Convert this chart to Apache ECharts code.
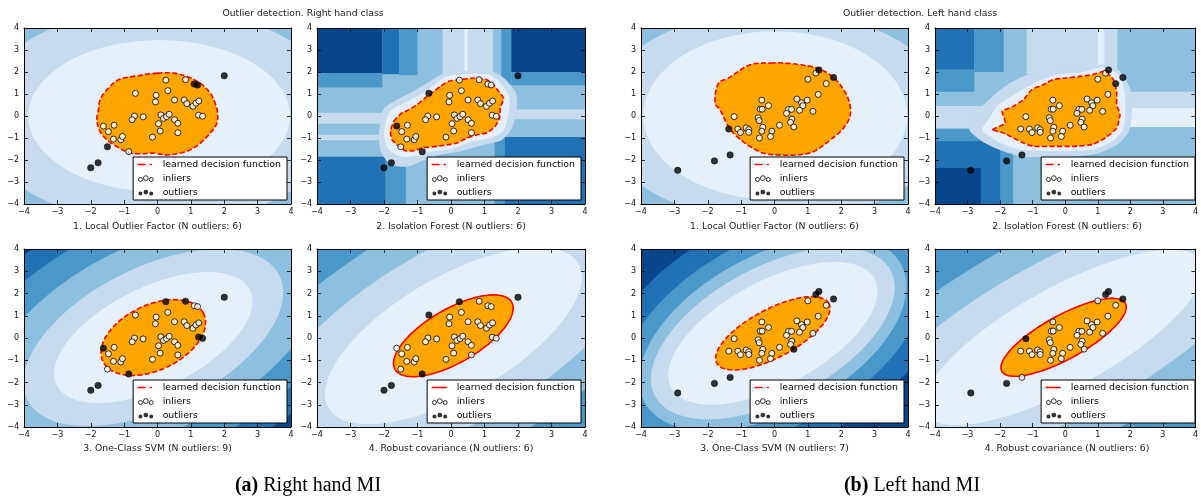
<!DOCTYPE html>
<html><head><meta charset="utf-8">
<script src="https://cdn.jsdelivr.net/npm/echarts/dist/echarts.min.js"></script>
<style>html,body{margin:0;padding:0;background:#fff}#c{width:1201px;height:501px}</style>
</head><body><div id="c"></div>
<script>
// ---------------- data ----------------
const axisTicks = [-4,-3,-2,-1,0,1,2,3,4];
const rightPts = [[2.0,1.83],[0.25,1.63],[0.84,1.65],[1.1,1.45],[1.2,1.41],[0.31,1.15],[-0.66,1.03],[-0.04,0.94],[-0.06,0.64],[0.51,0.73],[0.8,0.73],[0.88,0.56],[1.06,0.44],[1.15,0.58],[1.24,0.68],[1.23,0.04],[1.35,-0.01],[0.10,0.05],[0.18,-0.11],[0.27,-0.03],[0.35,0.08],[0.51,-0.17],[0.61,-0.33],[0.61,-0.76],[0.03,-0.35],[0.08,-0.68],[-0.15,-0.96],[-0.43,-0.04],[-0.69,0.0],[-0.76,-0.17],[-1.3,-0.42],[-1.62,-0.46],[-1.47,-0.71],[-1.32,-1.05],[-1.1,-1.08],[-1.05,-0.93],[-1.5,-1.4],[-0.86,-1.62],[-1.78,-2.13],[-2.0,-2.35]];
const leftPts = [[-2.9,-2.47],[-1.8,-2.04],[-1.33,-1.77],[1.24,1.95],[1.33,2.09],[1.77,1.75],[1.0,1.67],[1.55,1.47],[1.31,0.98],[0.67,0.77],[0.98,0.72],[0.81,0.6],[0.85,0.47],[0.75,0.26],[1.15,0.21],[0.42,0.3],[0.51,0.3],[0.36,0.12],[0.52,-0.14],[0.48,-0.29],[0.58,-0.5],[0.15,-0.42],[-0.18,0.47],[-0.38,0.72],[-0.43,0.31],[-0.37,0.31],[-0.49,-0.08],[-0.46,-0.21],[-0.35,-0.51],[-0.38,-0.69],[-0.45,-1.0],[-0.08,-0.69],[-0.12,-0.93],[-1.21,-0.03],[-1.37,-0.59],[-1.1,-0.59],[-1.02,-0.75],[-0.85,-0.54],[-0.77,-0.62],[-0.77,-0.74]];
// outlier indices per method
const outRightLOF = [0,3,4,36,38,39];
const outRightIF  = [0,6,31,37,38,39];
const outRightSVM = [0,1,2,15,16,31,37,38,39];
const outRightRob = [0,1,6,37,38,39];
const outLeftLOF  = [0,1,2,4,5,34];
const outLeftIF   = [0,1,2,4,5,7];
const outLeftSVM  = [0,1,2,3,4,5,20];
const outLeftRob  = [0,1,3,4,5,33];
const panelTitles = ['1. Local Outlier Factor (N outliers: 6)','2. Isolation Forest (N outliers: 6)','3. One-Class SVM (N outliers: 9)','4. Robust covariance (N outliers: 6)',
                     '1. Local Outlier Factor (N outliers: 6)','2. Isolation Forest (N outliers: 6)','3. One-Class SVM (N outliers: 7)','4. Robust covariance (N outliers: 6)'];
const suptitles = ['Outlier detection. Right hand class','Outlier detection. Left hand class'];
const captions = [['(a)',' Right hand MI'],['(b)',' Left hand MI']];

// decision-function level shapes: [level, cx, cy, ux, uy, vx, vy] (conjugate semi-axes, data units)
const lofRightLevels = [[4,0.05,0,5.5,0,0,4.9],[5,0.05,0,3.92,0,0,3.45]];
const lofLeftLevels  = [[4,0,0,5.3,0,0,4.8],[5,0.02,0.02,3.95,0,0,3.83]];
const svmRightLevels = [[1,-0.125,0.02,7.02,5.15,-1.80,5.57],[2,-0.125,0.02,5.94,4.36,-1.54,4.76],[3,-0.125,0.02,4.86,3.57,-1.22,3.78],[4,-0.125,0.02,3.78,2.78,-0.92,2.85],[5,-0.125,0.02,2.9,2.13,-0.66,2.03]];
const svmLeftLevels  = [[1,-0.05,0.21,5.04,4.03,-1.61,4.55],[2,-0.05,0.21,4.38,3.50,-1.31,3.72],[3,-0.05,0.21,3.85,3.08,-1.10,3.12],[4,-0.05,0.21,3.53,2.82,-0.93,2.64],[5,-0.05,0.21,3.05,2.44,-0.73,2.08]];
const robRightLevels = [[2,0.07,0.1,9.18,7.98,-2.21,5.76],[3,0.07,0.1,7.36,6.40,-1.76,4.59],[4,0.07,0.1,5.54,4.82,-1.31,3.41],[5,0.07,0.1,3.73,3.24,-0.88,2.30]];
const robLeftLevels  = [[2,-0.05,0.03,10.61,8.49,-2.11,5.99],[3,-0.05,0.03,8.49,6.79,-1.49,4.24],[4,-0.05,0.03,6.37,5.09,-1.10,3.12],[5,-0.05,0.03,4.24,3.40,-0.70,2.0]];
// learned boundaries (ellipses)
const svmRightBoundary = [[6,-0.125,0.02,1.50,1.10,-0.45,1.30]];
const svmLeftBoundary  = [[6,-0.05,0.21,1.68,1.34,-0.34,0.96]];
const robRightBoundary = [[6,0.07,0.1,1.74,1.51,-0.40,1.05]];
const robLeftBoundary  = [[6,-0.05,0.03,1.90,1.52,-0.31,0.87]];
// isolation-forest level blocks: [level, x1, y1, x2, y2]
const ifRightBlocks = [[3,-4,-4,4,4],[0,-4,1.95,-2.05,4],[1,-2.05,1.9,-1.55,4],[2,-1.55,1.85,-1.0,4],[4,-0.25,1.85,1.25,4],[5,0.4,1.85,0.5,4],[2,1.5,1.4,1.8,4],[2,1.8,1.4,4,2.0],[0,1.8,2.0,4,4],[2,-4,1.3,-2.05,1.95],[4,-4,-0.35,-2.0,0.15],[4,-4,-1.1,-2.0,-0.85],[1,-4,-4,-1.95,-1.85],[2,-1.95,-4,-1.35,-1.9],[2,1.3,-4,1.6,-1.0],[1,1.6,-4,4,-0.95],[4,1.8,-0.15,4,0.3]];
const ifLeftBlocks = [[3,-4,-4,4,4],[1,-4,2.1,-2.79,4],[2,-2.79,2.0,-1.89,4],[4,-1.18,1.9,1.6,4],[5,1.0,1.9,1.2,4],[2,-4,1.1,-2.79,2.1],[4,-4,-0.55,-2.2,0.45],[2,-4,-4,-1.6,-0.6],[1,-4,-4,-2.0,-1.15],[0,-4,-4,-2.59,-2.36],[4,1.65,-0.5,4,1.1],[5,1.65,-0.5,4,0.35]];
// irregular level regions: halos and learned boundaries
const ifRightHalo4 = [[-2.1,-0.2],[-2.0,0.35],[-1.6,0.75],[-1.1,1.15],[-0.6,1.6],[-0.2,1.95],[0.4,2.05],[1.2,2.05],[1.6,1.7],[1.95,1.0],[1.95,0.2],[1.8,-0.6],[1.5,-1.1],[1.0,-1.3],[0.3,-1.6],[-0.3,-1.75],[-0.8,-2.0],[-1.3,-2.3],[-1.8,-2.2],[-2.1,-1.6],[-2.15,-0.9]];
const ifRightHalo5 = [[-1.95,-0.25],[-1.8,0.25],[-1.45,0.55],[-1.0,0.9],[-0.55,1.35],[-0.15,1.8],[0.4,1.9],[1.15,1.88],[1.5,1.45],[1.75,0.85],[1.7,0.0],[1.55,-0.7],[1.15,-1.0],[0.55,-1.2],[0.0,-1.5],[-0.5,-1.6],[-1.0,-1.8],[-1.45,-1.85],[-1.85,-1.55],[-2.0,-0.9]];
const ifRightBoundary = [[-1.71,-0.24],[-1.51,0.09],[-1.26,0.29],[-1.01,0.52],[-0.77,0.82],[-0.57,1.05],[-0.32,1.35],[-0.07,1.58],[0.28,1.65],[0.68,1.73],[1.07,1.65],[1.27,1.42],[1.42,1.12],[1.57,0.82],[1.47,0.36],[1.45,-0.09],[1.32,-0.47],[1.07,-0.77],[0.78,-0.85],[0.48,-1.0],[0.18,-1.23],[-0.07,-1.3],[-0.42,-1.38],[-0.82,-1.45],[-1.11,-1.58],[-1.36,-1.58],[-1.56,-1.38],[-1.76,-1.08],[-1.81,-0.7]];
const ifLeftHalo4 = [[-2.95,-0.6],[-2.7,0.2],[-2.3,0.8],[-1.8,1.4],[-1.2,1.85],[-0.4,2.05],[0.5,2.15],[1.2,2.35],[1.7,2.0],[2.0,1.2],[2.05,0.2],[1.95,-0.7],[1.6,-1.3],[1.0,-1.7],[0.2,-1.85],[-0.6,-1.85],[-1.3,-1.85],[-1.9,-1.6],[-2.5,-1.2]];
const ifLeftHalo5 = [[-2.55,-0.62],[-2.3,-0.05],[-2.1,0.45],[-1.7,0.85],[-1.3,1.2],[-0.8,1.6],[-0.2,1.9],[0.5,1.98],[1.15,2.2],[1.65,1.85],[1.82,1.1],[1.85,0.2],[1.78,-0.6],[1.45,-1.15],[0.9,-1.5],[0.2,-1.6],[-0.6,-1.6],[-1.3,-1.55],[-1.8,-1.35],[-2.25,-1.0]];
const ifLeftBoundary = [[-2.24,-0.62],[-1.84,-0.32],[-1.94,0.21],[-1.59,0.44],[-1.28,0.74],[-1.03,1.2],[-0.68,1.42],[-0.38,1.65],[0.02,1.73],[0.43,1.8],[0.83,1.88],[1.23,2.03],[1.48,1.65],[1.58,1.12],[1.58,0.52],[1.68,0.06],[1.58,-0.55],[1.23,-1.0],[0.83,-1.3],[0.23,-1.38],[-0.38,-1.38],[-0.98,-1.38],[-1.28,-1.23],[-1.59,-1.0],[-1.89,-0.77]];
const lofRightBoundary = [[0,1.95],[-0.72,1.8],[-1.17,1.65],[-1.52,1.19],[-1.72,0.74],[-1.77,0.28],[-1.82,-0.17],[-1.72,-0.71],[-1.52,-1.08],[-1.22,-1.39],[-0.87,-1.66],[-0.52,-1.72],[-0.12,-1.69],[0.28,-1.77],[0.68,-1.69],[0.98,-1.54],[1.28,-1.24],[1.58,-0.78],[1.78,-0.33],[1.8,0.13],[1.73,0.58],[1.58,1.04],[1.28,1.49],[0.88,1.8],[0.48,1.95]];
const lofLeftBoundary = [[-0.03,2.41],[-0.73,2.33],[-1.38,1.72],[-1.68,1.49],[-1.78,0.58],[-1.63,0.28],[-1.38,-0.48],[-1.13,-0.93],[-0.73,-1.39],[-0.33,-1.69],[0.07,-1.77],[0.67,-1.77],[1.17,-1.62],[1.67,-1.09],[2.07,-0.55],[2.27,0.05],[2.22,0.74],[1.97,1.42],[1.67,1.87],[1.27,2.18],[0.77,2.33],[0.27,2.41]];

// ---------------- styling / layout ----------------
const LEVEL_COLORS = ['#08468b','#2171b5','#4a98ca','#8dc0de','#c6dbef','#e6f0fa','#ffa500'];
const FONT = 'DejaVu Sans';
const grids = [
 {left:24, top:28, width:267, height:176},{left:317, top:28, width:268, height:176},
 {left:24, top:249, width:267, height:178},{left:317, top:249, width:268, height:178},
 {left:641, top:28, width:267, height:176},{left:935, top:28, width:264, height:176},
 {left:641, top:249, width:267, height:178},{left:935, top:249, width:264, height:178}
];
const panels = [
 {pts:rightPts, out:outRightLOF, ell:lofRightLevels, blob:lofRightBoundary, dashed:true},
 {pts:rightPts, out:outRightIF, blocks:ifRightBlocks, halos:[[4,ifRightHalo4],[5,ifRightHalo5]], blob:ifRightBoundary, dashed:true},
 {pts:rightPts, out:outRightSVM, base:0, ell:svmRightLevels, bnd:svmRightBoundary, dashed:true},
 {pts:rightPts, out:outRightRob, base:1, ell:robRightLevels, bnd:robRightBoundary, dashed:false},
 {pts:leftPts, out:outLeftLOF, ell:lofLeftLevels, blob:lofLeftBoundary, dashed:true},
 {pts:leftPts, out:outLeftIF, blocks:ifLeftBlocks, halos:[[4,ifLeftHalo4],[5,ifLeftHalo5]], blob:ifLeftBoundary, dashed:true},
 {pts:leftPts, out:outLeftSVM, base:0, ell:svmLeftLevels, bnd:svmLeftBoundary, dashed:true},
 {pts:leftPts, out:outLeftRob, base:1, ell:robLeftLevels, bnd:robLeftBoundary, dashed:false}
];
const RED='#ff0000';
function boundaryStyle(dashed){return {fill:LEVEL_COLORS[6], stroke:RED, lineWidth:1.6, lineDash: dashed?[5,2.5]:null};}

function ellipseRender(strokeStyle){
  return function(params, api){
    const lvl=api.value(0), cx=api.value(1), cy=api.value(2), ux=api.value(3), uy=api.value(4), vx=api.value(5), vy=api.value(6);
    const pts=[];
    for(let k=0;k<144;k++){const t=k/144*2*Math.PI;const c=Math.cos(t),s=Math.sin(t);
      pts.push(api.coord([cx+ux*c+vx*s, cy+uy*c+vy*s]));}
    const style = strokeStyle ? strokeStyle : {fill:LEVEL_COLORS[lvl]};
    return {type:'polygon', shape:{points:pts}, style};
  };
}
function rectRender(params, api){
  const a=api.coord([api.value(1), api.value(4)]), b=api.coord([api.value(3), api.value(2)]);
  return {type:'rect', shape:{x:a[0], y:a[1], width:b[0]-a[0], height:b[1]-a[1]}, style:{fill:LEVEL_COLORS[api.value(0)]}};
}
function polySeries(p, name, poly, style, smooth){
  return {type:'custom', name, xAxisIndex:2*p, yAxisIndex:2*p, clip:true, silent:true, z:2,
    data:[[poly[0][0], poly[0][1]]],
    renderItem(params, api){
      return {type:'polygon', shape:{points:poly.map(q=>api.coord(q)), smooth:smooth||0}, style};
    }};
}

const xAxes=[], yAxes=[], series=[];
grids.forEach((g,p)=>{
  const common = {gridIndex:p, type:'value', min:-4, max:4, interval:1, z:10, splitLine:{show:false},
    axisLine:{show:true, onZero:false, lineStyle:{color:'#000', width:1}},
    axisTick:{show:true, inside:true, length:4, lineStyle:{color:'#000', width:0.8}}};
  const lab = {show:true, fontSize:8, color:'#111', fontFamily:FONT, formatter:v=>String(v).replace('-','\u2212')};
  xAxes.push(Object.assign({}, common, {position:'bottom', axisLabel:Object.assign({margin:4}, lab)}));
  xAxes.push(Object.assign({}, common, {position:'top', axisLabel:{show:false}}));
  yAxes.push(Object.assign({}, common, {position:'left', axisLabel:Object.assign({margin:5}, lab)}));
  yAxes.push(Object.assign({}, common, {position:'right', axisLabel:{show:false}}));
  const P = panels[p];
  series.push({type:'custom', name:'levels', xAxisIndex:2*p, yAxisIndex:2*p, clip:true, silent:true, z:1,
    data:[[P.base!==undefined?P.base:3, -4,-4,4,4]], renderItem:rectRender});
  if(P.blocks){
    series.push({type:'custom', name:'levels', xAxisIndex:2*p, yAxisIndex:2*p, clip:true, silent:true, z:1,
      data:P.blocks, renderItem:rectRender});
  }
  if(P.ell){
    series.push({type:'custom', name:'levels', xAxisIndex:2*p, yAxisIndex:2*p, clip:true, silent:true, z:1,
      data:P.ell, renderItem:ellipseRender(null)});
  }
  if(P.halos){
    P.halos.forEach(h=>series.push(polySeries(p,'levels',h[1],{fill:LEVEL_COLORS[h[0]]},0.25)));
  }
  if(P.blob){
    series.push(polySeries(p,'learned decision function',P.blob,boundaryStyle(P.dashed), p===0||p===4?0.35:0.15));
  }
  if(P.bnd){
    series.push({type:'custom', name:'learned decision function', xAxisIndex:2*p, yAxisIndex:2*p, clip:true, silent:true, z:2,
      data:P.bnd, renderItem:ellipseRender(boundaryStyle(P.dashed))});
  }
  const inl = P.pts.filter((_,i)=>P.out.indexOf(i)<0), outl = P.pts.filter((_,i)=>P.out.indexOf(i)>=0);
  series.push({type:'scatter', name:'inliers', xAxisIndex:2*p, yAxisIndex:2*p, data:inl, symbolSize:6, silent:true, z:5,
    itemStyle:{color:'#fff', borderColor:'#000', borderWidth:1}});
  series.push({type:'scatter', name:'outliers', xAxisIndex:2*p, yAxisIndex:2*p, data:outl, symbolSize:6.5, silent:true, z:5,
    itemStyle:{color:'#000', borderColor:'#000', borderWidth:0.5}});
});

const ICON_DASH = 'path://M0,0M20,8M0,3.2h8v1.6h-8zM12,3.2h2.2v1.6h-2.2z';
const ICON_LINE = 'path://M0,0M20,8M0,3.2h15v1.6h-15z';
const ICON_DOTS = 'path://M0,0M20,8M0.8,5a2,2 0 1,0 4,0a2,2 0 1,0 -4,0zM5.8,3.6a2.4,2.4 0 1,0 4.8,0a2.4,2.4 0 1,0 -4.8,0zM11.6,5a2,2 0 1,0 4,0a2,2 0 1,0 -4,0z';
const legends = grids.map((g,p)=>({
  orient:'vertical', right:1201-(g.left+g.width)+4, bottom:501-(g.top+g.height)+4, z:20,
  backgroundColor:'#fff', borderColor:'#000', borderWidth:1, borderRadius:0, padding:[3,6,3,4],
  itemWidth:20, itemHeight:8, itemGap:5, selectedMode:false, symbolKeepAspect:true,
  textStyle:{fontSize:9.4, color:'#000', fontFamily:FONT},
  data:[
    {name:'learned decision function', icon: panels[p].dashed?ICON_DASH:ICON_LINE, itemStyle:{color:RED, borderWidth:0}},
    {name:'inliers', icon:ICON_DOTS, itemStyle:{color:'#fff', borderColor:'#000', borderWidth:1}},
    {name:'outliers', icon:ICON_DOTS, itemStyle:{color:'#000', borderColor:'#000', borderWidth:0}}
  ]
}));

const titles = [];
suptitles.forEach((t,i)=>titles.push({text:t, left:[303,920][i], top:9, textAlign:'center', padding:0,
  textStyle:{fontSize:9.3, fontWeight:'normal', color:'#222', fontFamily:FONT}}));
panelTitles.forEach((t,p)=>{const g=grids[p];
  titles.push({text:t, left:g.left+g.width/2, top:[222,444][p%4<2?0:1], textAlign:'center', padding:0,
    textStyle:{fontSize:9.3, fontWeight:'normal', color:'#222', fontFamily:FONT}});});
captions.forEach((c,i)=>titles.push({text:'{b|'+c[0]+'}'+c[1], left:[308,912][i], top:476, textAlign:'center', padding:0,
  textStyle:{fontSize:20, fontWeight:'normal', color:'#000', fontFamily:'Liberation Serif',
    rich:{b:{fontSize:20, fontWeight:'bold', color:'#000', fontFamily:'Liberation Serif'}}}}));

const chart = echarts.init(document.getElementById('c'), null, {renderer:'canvas'});
chart.setOption({animation:false, backgroundColor:'#fff', title:titles, legend:legends,
  grid:grids.map(g=>Object.assign({containLabel:false}, g)), xAxis:xAxes, yAxis:yAxes, series});
</script></body></html>
